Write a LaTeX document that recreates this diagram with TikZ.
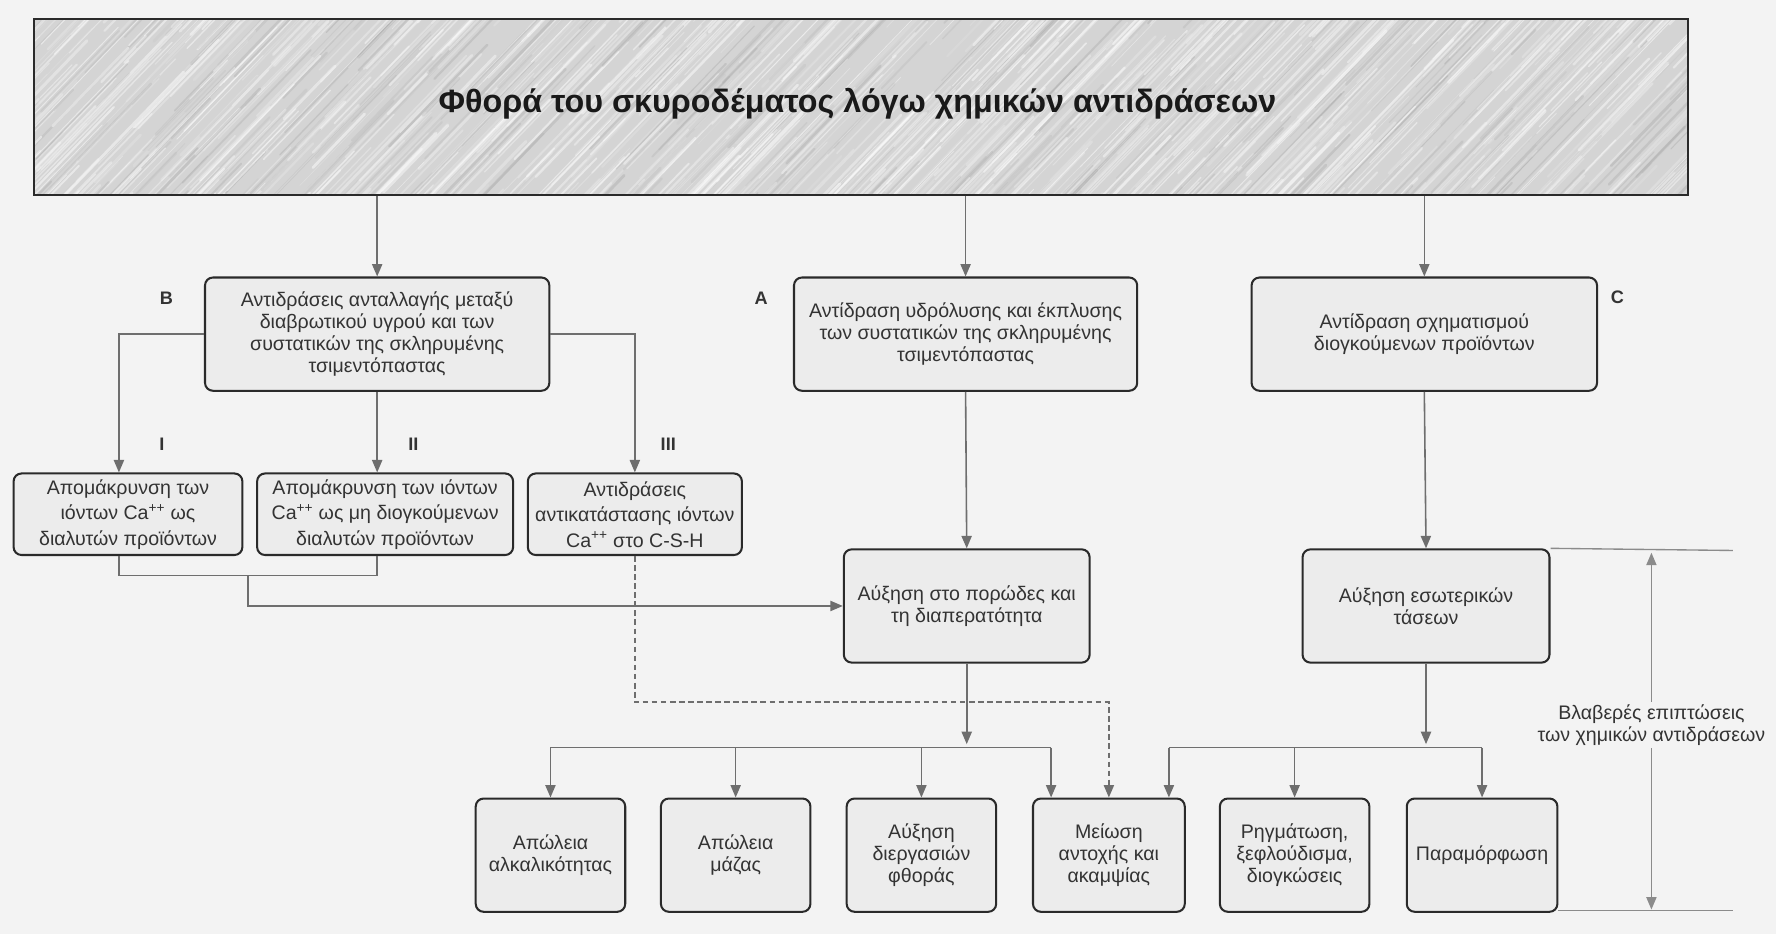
\documentclass[tikz,border=0pt]{standalone}
\usepackage{fontspec}
\setmainfont{Liberation Sans}
\usetikzlibrary{arrows.meta}
\definecolor{pagebg}{HTML}{F3F3F3}
\definecolor{boxfill}{HTML}{ECECEC}
\definecolor{boxline}{HTML}{2A2A2A}
\definecolor{wirec}{HTML}{6E6E6E}
\definecolor{ink}{HTML}{333333}
\definecolor{slab}{HTML}{D4D4D4}
\begin{document}
\begin{tikzpicture}[x=1pt,y=-1pt,
  box/.style={draw=boxline, line width=1.8pt, rounded corners=7pt, fill=boxfill,
    align=center, text=ink, inner sep=2pt, font=\fontsize{17.3}{19.5}\selectfont},
  smallbox/.style={box, font=\fontsize{17.3}{22.5}\selectfont},
  lowbox/.style={box, minimum width=132pt, minimum height=100pt},
  wire/.style={draw=wirec, line width=1.4pt},
  arr/.style={wire, -{Triangle[length=11pt,width=9pt]}},
  dasharr/.style={arr, dash pattern=on 5pt off 3pt},
  lbl/.style={font=\fontsize{16}{19}\selectfont\bfseries, text=ink},
  dim/.style={draw=wirec!80, line width=1.2pt}]
\useasboundingbox (0,0) rectangle (1568,825);
\fill[pagebg] (0,0) rectangle (1568,825);

% streaked slab behind the heading
\begin{scope}
  \clip (30,17) rectangle (1490,172);
  \fill[slab] (30,17) rectangle (1490,172);
  \pgfmathsetseed{11}
  \foreach \i in {1,...,1600}{
    \pgfmathsetmacro\xa{rnd*1700-180}
    \pgfmathsetmacro\ya{17+rnd*300}
    \pgfmathsetmacro\ln{40+rnd*160}
    \pgfmathsetmacro\lw{0.5+rnd*2.2}
    \pgfmathsetmacro\op{0.10+rnd*0.40}
    \pgfmathtruncatemacro\kind{rnd*4}
    \ifnum\kind=0 \def\sc{black!45}\def\op{0.06+0.2*rnd}\else \def\sc{white}\fi
    \draw[line width=\lw pt, draw=\sc, opacity=\op, line cap=round] (\xa,\ya) -- ++(-46:\ln);
  }
\end{scope}
\node[draw=boxline, line width=1.8pt, minimum width=1460pt, minimum height=155pt,
  inner sep=0pt] (top) at (760,94.5) {};
\node[font=\fontsize{28.5}{32}\selectfont\bfseries, text=black!90, inner sep=0pt]
  (topname) at (757,92) {Φθορά του σκυροδέματος λόγω χημικών αντιδράσεων};

% first level
\node[box, minimum width=304pt, minimum height=100pt] (B) at (333,295)
  {Αντιδράσεις ανταλλαγής μεταξύ\\διαβρωτικού υγρού και των\\συστατικών της σκληρυμένης\\τσιμεντόπαστας};
\node[box, minimum width=303pt, minimum height=100pt] (A) at (852.5,295)
  {Αντίδραση υδρόλυσης και έκπλυσης\\των συστατικών της σκληρυμένης\\τσιμεντόπαστας};
\node[box, minimum width=305pt, minimum height=100pt] (C) at (1257.5,295)
  {Αντίδραση σχηματισμού\\διογκούμενων προϊόντων};
\node[lbl] (labB) at (147,263) {B};
\node[lbl] (labA) at (672,263) {A};
\node[lbl] (labC) at (1428,262) {C};

% branches of B
\node[smallbox, minimum width=202pt, minimum height=72pt] (I) at (113,454)
  {Απομάκρυνση των\\ιόντων Ca\textsuperscript{++} ως\\διαλυτών προϊόντων};
\node[smallbox, minimum width=226pt, minimum height=72pt] (II) at (340,454)
  {Απομάκρυνση των ιόντων\\Ca\textsuperscript{++} ως μη διογκούμενων\\διαλυτών προϊόντων};
\node[smallbox, minimum width=189pt, minimum height=72pt] (III) at (560.5,454)
  {Αντιδράσεις\\αντικατάστασης ιόντων\\Ca\textsuperscript{++} στο C-S-H};
\node[lbl] (labI) at (143,392) {I};
\node[lbl] (labII) at (365,392) {II};
\node[lbl] (labIII) at (590,392) {III};

% second level
\node[box, minimum width=217pt, minimum height=100pt] (P) at (853.5,535)
  {Αύξηση στο πορώδες και\\τη διαπερατότητα};
\node[box, minimum width=218pt, minimum height=100pt] (T) at (1259,535)
  {Αύξηση εσωτερικών\\τάσεων};

% consequences
\node[lowbox] (L1) at (486,755) {Απώλεια\\αλκαλικότητας};
\node[lowbox] (L2) at (649.5,755) {Απώλεια\\μάζας};
\node[lowbox] (L3) at (813.5,755) {Αύξηση\\διεργασιών\\φθοράς};
\node[lowbox, minimum width=134pt] (L4) at (979,755) {Μείωση\\αντοχής και\\ακαμψίας};
\node[lowbox] (L5) at (1143,755) {Ρηγμάτωση,\\ξεφλούδισμα,\\διογκώσεις};
\node[lowbox, minimum width=133pt] (L6) at (1308.5,755) {Παραμόρφωση};

% helper points
\coordinate (br) at (219,508);
\coordinate (dl) at (0,620);
\coordinate (bus) at (0,660);
\coordinate (busin) at (0,657);
\coordinate (L4a) at ([xshift=-51pt]L4.north);
\coordinate (L4b) at ([xshift=53pt]L4.north);

% connectors from the heading
\draw[arr] (top.south -| B.north) -- (B.north);
\draw[arr] (top.south -| A.north) -- (A.north);
\draw[arr] (top.south -| C.north) -- (C.north);

% B to its three reactions
\draw[arr] (B.west) -| ([xshift=-8pt]I.north);
\draw[arr] (B.south) -- (B.south |- II.north);
\draw[arr] (B.east) -| (III.north);

% I and II joined, leading to porosity
\draw[wire] ([xshift=-8pt]I.south) |- (br) -| ([xshift=-7pt]II.south);
\draw[arr] (br) |- (P.west);
\draw[dasharr] (III.south) |- (dl -| L4.north) -- (L4.north);

% A and C downwards
\draw[arr] (A.south) -- (P.north);
\draw[arr] (C.south) -- (T.north);

% porosity fan-out
\draw[arr] (P.south) -- (P.south |- busin);
\draw[wire] (bus -| L1.north) -- (bus -| L4a);
\draw[arr] (bus -| L1.north) -- (L1.north);
\draw[arr] (bus -| L2.north) -- (L2.north);
\draw[arr] (bus -| L3.north) -- (L3.north);
\draw[arr] (bus -| L4a) -- (L4a);

% internal stresses fan-out
\draw[arr] (T.south) -- (T.south |- busin);
\draw[wire] (bus -| L4b) -- (bus -| L6.north);
\draw[arr] (bus -| L4b) -- (L4b);
\draw[arr] (bus -| L5.north) -- (L5.north);
\draw[arr] (bus -| L6.north) -- (L6.north);

% span of the harmful effects
\coordinate (dimtop) at (1530,486);
\coordinate (dimbot) at (1530,804);
\draw[dim] (T.north east) -- (dimtop);
\draw[dim] (L6.south east |- dimbot) -- (dimbot);
\draw[dim, {Triangle[length=11pt,width=9pt]}-{Triangle[length=11pt,width=9pt]}]
  (1458,488) -- (1458,803);
\node[fill=pagebg, align=center, text=ink, inner sep=2pt,
  font=\fontsize{17.3}{19.5}\selectfont] (harm) at (1458,640)
  {Βλαβερές επιπτώσεις\\των χημικών αντιδράσεων};
\end{tikzpicture}
\end{document}
